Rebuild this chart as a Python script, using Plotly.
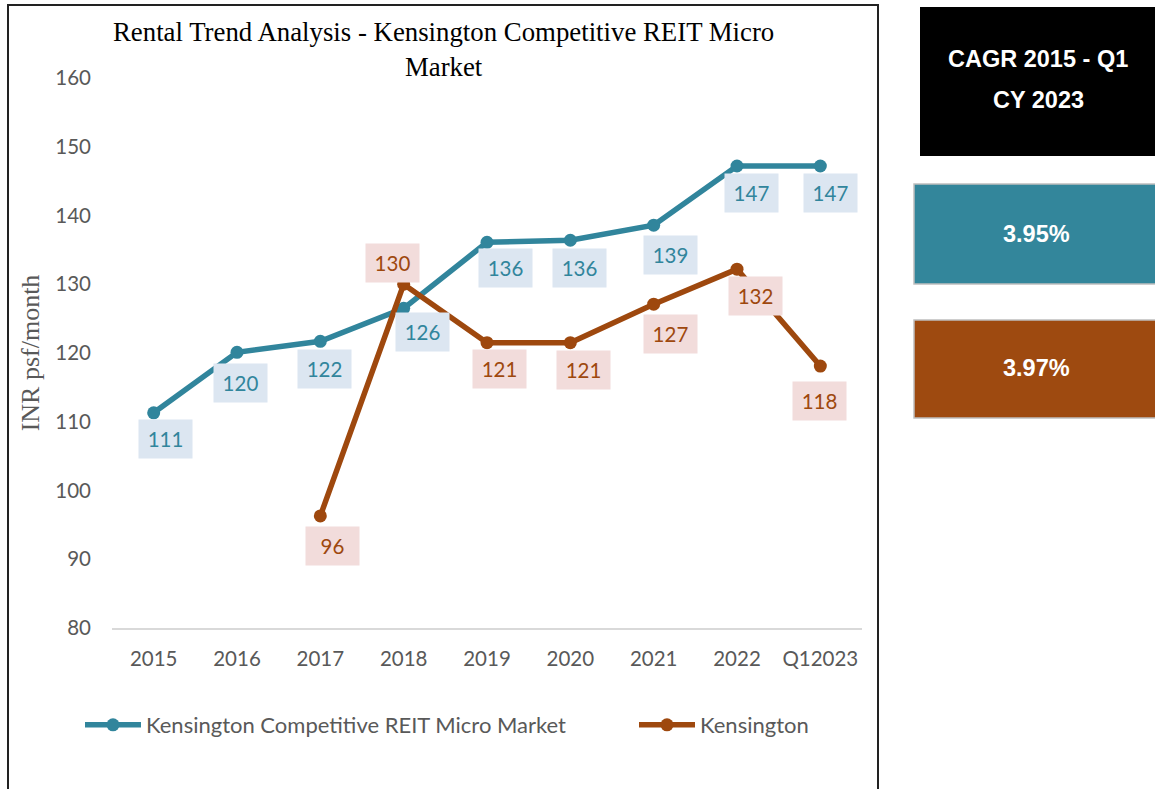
import plotly.graph_objects as go

# %% data

years = ['2015', '2016', '2017', '2018', '2019', '2020', '2021', '2022', 'Q12023']
micro_market = [111.3, 120.1, 121.7, 126.5, 136.1, 136.4, 138.6, 147.2, 147.2]
kensington = [None, None, 96.3, 130.0, 121.5, 121.5, 127.1, 132.2, 118.1]
micro_labels = ['111', '120', '122', '126', '136', '136', '139', '147', '147']
kens_labels = ['', '', '96', '130', '121', '121', '127', '132', '118']
cagr_title = ['CAGR 2015 - Q1', 'CY 2023']
cagr_micro = '3.95%'
cagr_kens = '3.97%'

# %% styling

BLUE = '#31859c'
ORANGE = '#9e480e'
GREY = '#595959'
W, H = 1155, 789
L, R, T, B = 112, 862, 78, 628   # plot area in pixels
FONT = 'Lato'

# label offsets (dx, dy) in px from the point, screen coords (dy down)
micro_off = [(12, 26), (3, 31), (4, 28), (19, 24), (18, 26), (9, 28), (17, 30), (14, 27), (10, 27)]
kens_off = [None, None, (12, 30), (-11, -21), (12, 26), (13, 27), (17, 30), (18, 27), (-1, 35)]


def px(x):
    return (x - L) / (R - L)


def py(y):
    return (B - y) / (B - T)


fig = go.Figure()

fig.add_trace(go.Scatter(
    x=years, y=micro_market, name='Kensington Competitive REIT Micro Market',
    mode='lines+markers', line=dict(color=BLUE, width=5.5),
    marker=dict(size=13, color=BLUE), legend='legend'))
fig.add_trace(go.Scatter(
    x=years, y=kensington, name='Kensington',
    mode='lines+markers', line=dict(color=ORANGE, width=5.5),
    marker=dict(size=13, color=ORANGE), legend='legend2'))

annotations = []
for i, yr in enumerate(years):
    dx, dy = micro_off[i]
    annotations.append(dict(
        x=i, y=micro_market[i], text=micro_labels[i], showarrow=False,
        xshift=dx, yshift=-dy, bgcolor='#dce6f1', width=45, height=30,
        borderpad=4, font=dict(family=FONT, size=20.5, color=BLUE)))
    if kensington[i] is not None:
        dx, dy = kens_off[i]
        annotations.append(dict(
            x=i, y=kensington[i], text=kens_labels[i], showarrow=False,
            xshift=dx, yshift=-dy, bgcolor='#f2dcdb', width=45, height=30,
            borderpad=4, font=dict(family=FONT, size=20.5, color=ORANGE)))

# title
annotations.append(dict(
    xref='paper', yref='paper', x=px(443), y=py(49), showarrow=False,
    xanchor='center', yanchor='middle',
    text='Rental Trend Analysis - Kensington Competitive REIT Micro<br>Market',
    font=dict(family='Liberation Serif', size=26.8, color='black'),
    align='center'))

# CAGR boxes
shapes = [
    dict(type='rect', xref='paper', yref='paper', x0=px(8), x1=px(878),
         y0=py(5), y1=py(800), line=dict(color='#222222', width=2)),
    dict(type='rect', xref='paper', yref='paper', x0=px(920), x1=px(1160),
         y0=py(7), y1=py(156), fillcolor='black', line=dict(width=0)),
    dict(type='rect', xref='paper', yref='paper', x0=px(914), x1=px(1160),
         y0=py(184), y1=py(284), fillcolor='#33869b',
         line=dict(color='#bfbfbf', width=1.5)),
    dict(type='rect', xref='paper', yref='paper', x0=px(914), x1=px(1160),
         y0=py(320), y1=py(418), fillcolor='#9e4a10',
         line=dict(color='#bfbfbf', width=1.5)),
]
box_font = dict(family='Liberation Sans', size=23.5, color='white')
for text, (cx, cy) in zip(cagr_title + [cagr_micro, cagr_kens],
                          [(1038, 59), (1038, 100), (1036, 234), (1036, 368)]):
    annotations.append(dict(
        xref='paper', yref='paper', x=px(cx), y=py(cy), showarrow=False,
        text=f'<b>{text}</b>', font=box_font,
        xanchor='center', yanchor='middle'))

legend_style = dict(orientation='h', y=py(704), xanchor='left', yanchor='top',
                    itemwidth=56,
                    font=dict(family=FONT, size=22, color=GREY),
                    bgcolor='rgba(0,0,0,0)')

fig.update_layout(
    width=W, height=H,
    margin=dict(l=L, r=W - R, t=T, b=H - B, pad=0),
    paper_bgcolor='white', plot_bgcolor='white',
    showlegend=True,
    legend=dict(x=px(80), **legend_style),
    legend2=dict(x=px(634), **legend_style),
    xaxis=dict(type='category', range=[-0.5, 8.5], showgrid=False,
               showline=True, linecolor='#d9d9d9', linewidth=1.5,
               ticks='', tickfont=dict(family=FONT, size=20.5, color=GREY),
               ticklabelstandoff=12),
    yaxis=dict(range=[80, 160], dtick=10, showgrid=False, zeroline=False,
               showline=False, ticks='',
               tickfont=dict(family=FONT, size=20.5, color=GREY),
               ticklabelstandoff=20,
               title=dict(text='INR psf/month', standoff=8,
                          font=dict(family='Liberation Serif', size=26,
                                    color=GREY))),
    annotations=annotations,
    shapes=shapes,
)

fig.write_html('out.html', config={'displayModeBar': False},
               post_script="document.body.style.margin='0';")
